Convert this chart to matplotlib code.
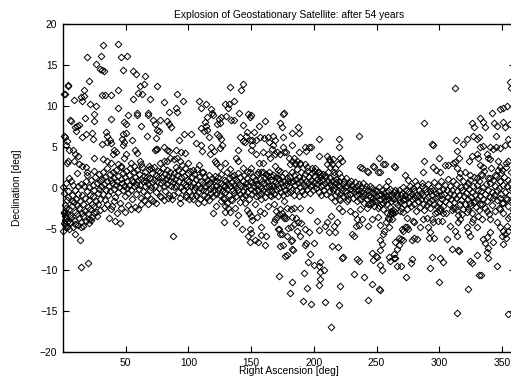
import matplotlib
matplotlib.use('Agg')
import matplotlib.pyplot as plt

plt.rcParams['font.family'] = ['Liberation Sans', 'DejaVu Sans']

# ---- data (right ascension [deg], declination [deg]) ----
upper_left = [(31.9,17.4),(44.2,17.5),(19.5,16.0),(30.3,16.1),(46.3,16.0),(51.0,16.1),(26.6,15.1),(29.5,14.5),(31.0,14.4),(33.0,14.3),
(48.1,14.4),(56.0,14.3),(57.9,13.9),(65.4,13.6),(21.1,13.0),(4.1,12.6),(17.1,12.0),(44.2,12.0),(61.4,12.4),(64.3,12.7),(74.7,12.4),
(1.7,11.5),(31.2,11.4),(33.5,11.3),(38.1,11.4),(59.8,11.6),(63.2,11.5),(14.2,11.1),(16.8,11.2),(9.1,10.7),(15.0,10.6),(55.6,10.8),
(69.6,10.8),(80.5,10.5),(21.6,10.2),(26.4,10.0),(43.6,9.7),(51.8,8.9),(58.7,9.2),(58.9,8.9),(67.8,9.1),(67.9,8.9),(84.5,9.3),
(17.6,8.5),(24.8,9.0),(24.9,8.2),(5.7,8.3),(38.6,8.4),(48.7,8.1),(50.0,7.8),(71.5,8.3),(77.3,8.3),(83.2,8.2),(84.5,7.8),(9.7,7.4),
(11.5,7.6),(12.8,7.7),(62.2,7.5),(73.3,7.8),(75.2,7.1),(76.5,6.9),(85.8,7.4),(10.5,6.9),(18.1,6.6),(15.5,6.2),(22.9,6.7),(24.3,6.0),
(34.3,6.8),(35.4,6.3),(37.5,5.9),(48.1,6.6),(50.3,6.7),(66.7,6.3),(74.4,6.1),(1.4,6.2),(3.0,5.7),(31.2,5.4),(35.4,5.6),(38.1,5.5),
(47.3,6.0),(48.7,5.6),(47.6,5.3),(54.8,5.9),(80.5,5.0),(83.2,4.6),(84.5,4.5),(75.2,4.8),(73.3,4.6),(8.2,4.6),(9.6,4.1),(12.2,3.9),
(40.7,4.6),(42.0,4.4),(40.0,4.2),(57.7,4.6),(59.3,4.3),(73.8,4.8),(50.0,4.1),(48.7,3.7),(3.6,3.3),(8.9,3.3),(12.8,2.9),
(15.5,2.7),(18.1,2.5),(19.5,1.9),(24.8,3.7),(32.2,3.5),(35.4,3.3),(38.1,3.1),(43.6,2.9),(46.3,2.7),(54.2,3.1),(56.8,2.7),(61.0,3.3),
(61.8,2.9),(68.5,2.7),(69.9,2.4),(77.6,3.1),(80.3,3.3),(83.2,3.3),(85.4,3.7),(88.3,3.5),(0.5,11.5),(3.8,12.4),(6.0,8.2),(0.8,6.3),
(2.6,5.2),(4.5,4.6),(2.8,3.0)]

lower_left = [(36.3,-3.7),(41.3,-4.0),(45.5,-4.3),(88.0,-5.9),(14.2,-9.6),(20.3,-9.1),(9.3,-5.6),(13.5,-6.4),(14.2,-4.8),(0.3,-5.2),
(1.5,-4.4),(0.8,-3.0),(2.5,-2.4),(32.7,-2.5),(35.1,-1.9),(38.0,-2.6),(40.5,-1.6),(43.0,-3.0),(46.5,-2.4),(49.8,-2.9),(52.0,-2.1),
(54.5,-2.6),(57.2,-2.3),(59.5,-2.6),(62.0,-1.9),(64.8,-1.5),(67.5,-2.0),(70.5,-1.3),(74.0,-1.8),(77.5,-1.0),(80.8,-1.5),(84.0,-1.2),
(87.5,-0.8),(24.7,-3.0),(20.7,-3.8),(27.0,-3.4),(29.5,-2.7),(7.5,-1.6)]

core_0_30 = [(0.3,0.1),(0.6,-0.6),(1.0,-2.9),(1.2,-3.4),(1.5,-3.9),(0.9,-4.3),(2.0,-4.6),(2.4,-3.7),(3.1,-4.1),(3.5,-3.0),(2.8,-1.5),
(3.8,-0.4),(4.2,-1.1),(4.9,-2.6),(5.3,-3.3),(5.8,-4.2),(6.4,-3.6),(6.9,-2.2),(7.3,-0.8),(7.8,0.4),(8.4,-1.7),(8.9,-3.9),(9.4,-2.9),
(9.9,-0.2),(4.5,1.2),(6.1,0.9),(2.2,0.6),(8.1,-4.7),(5.0,-5.0),(3.3,-4.8),(1.8,-2.1),(9.5,-4.4),(10.4,-1.3),(10.8,-3.2),(11.3,-2.1),
(11.7,0.3),(12.2,-0.7),(12.6,-3.6),(13.1,-2.5),(13.6,-1.6),(14.0,0.5),(14.4,-4.1),(14.9,-3.0),(15.4,-0.9),(15.9,-2.0),(16.3,-3.4),
(16.8,0.2),(17.2,-1.2),(17.7,-2.8),(18.2,-4.0),(18.6,0.8),(19.1,-0.4),(19.6,-2.3),(20.0,-3.1),(20.5,-1.5),(21.0,0.1),(21.4,-0.8),
(21.9,-2.6),(22.4,1.0),(22.8,-1.9),(23.3,-3.5),(23.7,0.4),(24.2,-1.0),(24.7,-2.2),(25.1,-0.3),(25.6,1.3),(26.1,-1.6),(26.5,-2.9),
(27.0,0.6),(27.5,-0.6),(27.9,-1.9),(28.4,1.7),(28.8,-0.1),(29.3,-1.3),(29.8,0.9),(12.0,-4.5),(16.0,-4.6),(18.9,1.6),(20.8,-4.3),
(11.0,1.8),(25.0,2.1),(22.0,-3.9)]

core_30_90 = [(30.5,0.2),(31.0,1.1),(31.6,-0.7),(32.1,2.0),(32.7,0.5),(33.2,-1.5),(33.8,1.4),(34.3,-0.2),(34.9,0.8),(35.4,2.4),
(36.0,-0.9),(36.5,0.3),(37.1,1.7),(37.6,-0.4),(38.2,1.0),(38.7,-2.2),(39.3,0.6),(39.8,1.9),(40.4,-0.1),(40.9,1.2),(41.5,-1.1),
(42.0,0.4),(42.6,2.2),(43.1,0.9),(43.7,-0.5),(44.2,1.5),(44.8,0.1),(45.3,-1.8),(45.9,1.1),(46.4,2.6),(47.0,0.6),(47.5,-0.3),
(48.1,1.8),(48.6,0.3),(49.2,-1.0),(49.7,1.3),(50.3,2.1),(50.8,0.0),(51.4,0.9),(51.9,-0.6),(52.5,1.6),(53.0,0.4),(53.6,2.4),
(54.1,-0.2),(54.7,1.0),(55.2,-1.4),(55.8,0.7),(56.3,1.9),(56.9,0.2),(57.4,1.3),(58.0,-0.7),(58.5,0.5),(59.1,2.2),(59.6,1.0),
(60.2,-0.1),(60.7,1.7),(61.3,0.4),(61.8,-1.2),(62.4,1.1),(62.9,2.5),(63.5,0.8),(64.0,-0.4),(64.6,1.5),(65.1,0.2),(65.7,2.0),
(66.2,0.9),(66.8,-0.9),(67.3,1.4),(67.9,0.5),(68.4,2.3),(69.0,-0.2),(69.5,1.2),(70.1,0.1),(70.6,1.8),(71.2,0.7),(71.7,-1.6),
(72.3,2.6),(72.8,1.0),(73.4,0.3),(73.9,1.6),(74.5,-0.5),(75.0,0.8),(75.6,2.1),(76.1,1.3),(76.7,0.0),(77.2,1.9),(77.8,0.6),
(78.3,-1.1),(78.9,1.4),(79.4,2.4),(80.0,0.9),(80.5,0.2),(81.1,1.7),(81.6,-0.4),(82.2,1.1),(82.7,2.2),(83.3,0.5),(83.8,1.5),
(84.4,-0.8),(84.9,0.9),(85.5,2.0),(86.0,0.3),(86.6,1.3),(87.1,-1.4),(87.7,0.7),(88.2,1.8),(88.8,0.1),(89.3,1.1),(89.9,2.5)]

upper_mid = [(133.5,12.3),(143.1,12.7),(142.0,12.0),(90.6,11.5),(95.9,10.6),(108.3,10.6),(114.2,10.3),(110.2,9.7),(90.4,9.8),
(91.2,9.3),(117.6,9.6),(119.0,9.1),(119.8,8.9),(129.0,10.2),(132.7,10.2),(131.4,9.8),(136.7,10.6),(126.1,8.7),(124.2,8.4),
(122.9,7.8),(125.0,7.9),(114.4,8.6),(113.1,8.0),(113.6,7.6),(112.3,7.0),(109.7,7.3),(114.4,7.1),(130.3,8.8),(134.0,8.3),(136.2,8.3),
(140.2,9.1),(147.3,9.0),(149.7,8.9),(148.9,8.7),(143.6,7.7),(146.8,6.8),(146.0,6.3),(141.5,6.2),(156.6,7.5),(161.4,8.2),(152.0,6.8),
(151.0,5.9),(154.2,5.8),(157.4,6.2),(160.1,6.1),(163.2,6.2),(167.5,6.4),(168.8,5.9),(167.3,5.2),(164.2,5.6),(166.8,4.7),(168.8,4.2),
(170.7,4.4),(172.8,4.2),(163.5,4.1),(173.3,7.9),(174.7,7.4),(175.1,9.0),(96.4,6.6),(101.7,6.6),(92.5,5.8),(106.2,5.5),(116.3,6.2),
(109.7,5.2),(111.0,4.5),(117.6,5.0),(122.5,6.6),(124.2,6.4),(126.0,6.0),(127.0,5.2),(125.0,4.9),(120.3,4.5),(139.9,4.6),(143.1,5.7),
(145.2,5.6),(149.2,5.9),(150.5,5.2),(150.2,4.6),(90.3,4.6),(94.3,4.4),(96.9,4.3),(90.8,3.7),(93.5,3.3),(94.9,2.8),(117.0,4.2),
(121.0,3.3),(122.3,3.1),(129.5,3.1),(138.0,3.7),(139.4,3.3),(143.3,2.4),(146.8,2.0),(149.9,2.4),(155.3,2.0),(157.9,1.9),(161.6,1.7),
(154.0,4.2),(159.6,4.4),(155.9,3.1),(159.6,3.0),(165.0,3.7),(169.0,2.7),(171.7,2.2),(164.0,2.0),(166.0,1.5),(171.7,1.2),(100.0,3.0),
(104.0,2.2),(108.5,2.8),(112.0,1.9),(125.5,2.5),(133.0,2.3),(136.0,1.6)]

core_90_180 = [(90.4,0.3),(90.9,1.6),(91.5,-0.5),(92.0,2.2),(92.6,0.8),(93.1,-1.2),(93.7,1.3),(94.2,0.1),(94.8,2.0),(95.3,0.6),
(95.9,-0.3),(96.4,1.5),(97.0,0.4),(97.5,2.4),(98.1,-0.8),(98.6,1.0),(99.2,0.2),(99.7,1.8),(100.3,-0.4),(100.8,0.9),(101.4,2.1),
(101.9,0.3),(102.5,-1.0),(103.0,1.4),(103.6,0.6),(104.1,-0.2),(104.7,1.7),(105.2,0.1),(105.8,-0.9),(106.3,1.1),(106.9,2.3),
(107.4,0.4),(108.0,-0.5),(108.5,1.3),(109.1,0.0),(109.6,-1.3),(110.2,0.9),(110.7,1.9),(111.3,-0.2),(111.8,0.6),(112.4,-0.8),
(112.9,1.4),(113.5,0.2),(114.0,-0.4),(114.6,1.0),(115.1,-1.1),(115.7,0.5),(116.2,1.6),(116.8,-0.1),(117.3,0.7),(117.9,-0.6),
(118.4,1.2),(119.0,0.1),(119.5,-1.0),(120.1,0.8),(120.6,-0.3),(121.2,1.5),(121.7,0.3),(122.3,-0.7),(122.8,0.9),(123.4,-0.2),
(123.9,1.3),(124.5,0.0),(125.0,-0.9),(125.6,0.6),(126.1,1.7),(126.7,-0.4),(127.2,0.4),(127.8,-1.2),(128.3,1.0),(128.9,0.2),
(129.4,-0.5),(130.0,0.8),(130.5,1.9),(131.1,-0.1),(131.6,0.5),(132.2,-0.8),(132.7,1.2),(133.3,0.3),(133.8,-1.4),(134.4,0.7),
(134.9,1.5),(135.5,-0.3),(136.0,0.4),(136.6,-0.6),(137.1,1.1),(137.7,0.0),(138.2,-1.0),(138.8,0.9),(139.3,1.8),(139.9,-0.2),
(140.4,0.5),(141.0,-0.7),(141.5,1.3),(142.1,0.2),(142.6,-1.1),(143.2,0.8),(143.7,-0.4),(144.3,1.6),(144.8,0.1),(145.4,-0.9),
(145.9,0.6),(146.5,1.2),(147.0,-0.5),(147.6,0.3),(148.1,-1.3),(148.7,0.9),(149.2,2.0),(149.8,-0.1),(150.3,0.7),(150.9,-0.7),
(151.4,1.4),(152.0,0.2),(152.5,-0.4),(153.1,1.0),(153.6,-1.0),(154.2,0.5),(154.7,1.7),(155.3,-0.2),(155.8,0.4),(156.4,-0.8),
(156.9,1.1),(157.5,0.0),(158.0,-0.6),(158.6,0.8),(159.1,1.9),(159.7,-0.3),(160.2,0.6),(160.8,-1.1),(161.3,1.2),(161.9,0.1),
(162.4,-0.5),(163.0,0.9),(163.5,1.5),(164.1,-0.2),(164.6,0.3),(165.2,-0.9),(165.7,1.0),(166.3,0.4),(166.8,-0.4),(167.4,1.6),
(167.9,0.2),(168.5,-0.7),(169.0,0.7),(169.6,1.3),(170.1,-0.1),(170.7,0.5),(171.2,-1.0),(171.8,1.1),(172.3,0.0),(172.9,2.1),
(173.4,0.6),(174.0,-0.5),(174.5,1.4),(175.1,0.3),(175.6,-0.8),(176.2,0.9),(176.7,1.8),(177.3,-0.3),(177.8,0.4),(178.4,1.2),
(178.9,-0.6),(179.5,0.8)]

lower_mid = [(97.7,-1.1),(100.4,-1.4),(112.6,-1.7),(119.5,-3.0),(128.2,-4.1),(126.0,-1.6),(128.0,-1.4),(130.4,-1.8),(129.5,-2.2),
(131.4,-2.4),(129.5,-2.9),(133.4,-2.9),(137.5,-2.5),(141.5,-1.7),(139.4,-3.3),(138.3,-4.3),(142.3,-5.0),(146.8,-2.7),(148.1,-3.0),
(149.5,-3.4),(150.8,-3.9),(148.9,-5.0),(150.0,-5.5),(147.6,-5.8),(149.4,-6.6),(153.4,-6.3),(155.3,-6.6),(158.0,-1.4),(157.4,-2.8),
(158.2,-4.8),(158.2,-5.7),(162.0,-5.9),(161.4,-6.9),(166.2,-1.0),(168.0,-2.0),(170.0,-2.8),(172.8,-2.6),(172.0,-3.2),(174.2,-3.0),
(176.0,-3.6),(169.3,-3.8),(168.0,-4.1),(170.7,-3.5),(176.0,-1.6),(172.8,-7.1),(177.3,-8.3),(172.0,-10.7),(172.5,-5.0),(174.5,-5.6),
(160.5,-3.0),(163.5,-2.2),(153.0,-2.0),(155.0,-3.5),(145.0,-1.8),(135.0,-1.5),(122.0,-2.2),(116.0,-1.5),(108.0,-1.8),(104.0,-1.4),
(93.5,-1.8)]

upper_right = [(176.0,9.1),(187.1,7.4),(182.6,6.7),(187.9,6.7),(203.8,6.0),(220.0,6.0),(220.0,5.0),(235.6,6.3),(175.2,6.2),
(175.6,5.0),(176.5,4.4),(177.6,4.4),(182.6,5.2),(187.9,4.4),(193.2,5.0),(195.8,5.0),(197.8,5.0),(194.1,4.5),(203.8,3.9),(210.4,3.9),
(211.7,3.5),(213.0,3.3),(215.6,3.5),(220.9,3.7),(222.2,3.3),(219.6,2.9),(184.0,3.7),(186.6,3.3),(185.2,2.9),(189.2,3.1),(193.2,2.9),
(198.5,2.4),(203.8,2.0),(209.1,1.6),(214.4,2.9),(217.0,2.4),(219.7,1.8),(238.2,2.4),(243.5,2.0),(248.3,2.6),(252.2,3.7),(256.7,2.9),
(264.8,2.6),(252.9,2.0),(259.0,0.8),(237.0,2.5),(242.3,2.1),(247.0,2.7),(255.5,2.9),(263.5,2.7),(251.5,1.9),(180.0,3.7),(182.6,3.3),
(181.3,2.9),(185.2,3.1),(189.2,2.9),(194.5,2.5),(199.8,2.1),(205.1,1.7),(210.4,2.9),(213.1,2.5),(215.7,1.9),
(288.1,3.3),(299.6,3.7),(288.1,7.9),(294.0,5.4),(294.6,5.3),(312.6,12.2),(356.3,12.9),(356.9,12.2),(313.1,5.9),(313.9,4.5),
(316.0,3.7),(318.7,5.4),(321.9,6.0),(325.8,7.9),(328.0,7.4),(330.3,6.0),(331.9,6.2),(327.1,6.3),(332.5,8.5),(334.6,8.1),(336.4,7.4),
(341.8,9.1),(348.4,9.6),(350.5,9.8),(353.7,10.0),(343.4,7.9),(346.0,7.6),(345.5,6.4),(350.8,8.1),(352.7,7.4),(356.3,7.8),(332.5,5.0),
(335.1,5.1),(337.7,4.1),(340.4,5.0),(343.0,4.8),(345.1,5.0),(348.2,4.9),(352.1,5.2),(355.0,6.0),(356.4,5.4),(324.0,3.3),(325.8,3.9),
(329.8,4.1),(330.6,3.6),(332.5,2.8),(335.1,2.6),(339.1,3.6),(340.4,3.5),(346.4,3.3),(348.2,2.6),(349.6,2.2),(353.5,3.0),(354.8,3.3),
(287.0,2.0),(294.9,2.6),(297.6,2.2),(300.2,2.0),(304.2,2.8),(306.8,2.8),(310.8,3.0),(312.6,3.2),(314.0,2.4),(316.6,1.8),(320.6,2.0),
(324.5,1.6),(329.8,1.2),(333.8,1.6),(340.4,1.2),(344.3,1.6),(348.2,0.8),(272.7,1.6),(275.3,1.0),(280.6,0.8),(285.9,0.6)]

core_180_270 = [(180.1,0.2),(180.6,1.3),(181.2,-0.5),(181.7,0.7),(182.3,2.0),(182.8,-0.2),(183.4,0.9),(183.9,1.6),(184.5,-0.8),
(185.0,0.4),(185.6,1.1),(186.1,-0.3),(186.7,2.3),(187.2,0.6),(187.8,-1.0),(188.3,1.4),(188.9,0.1),(189.4,0.8),(190.0,1.9),
(190.5,-0.4),(191.1,0.5),(191.6,1.2),(192.2,-0.7),(192.7,0.3),(193.3,1.7),(193.8,0.9),(194.4,-0.1),(194.9,2.1),(195.5,0.6),
(196.0,1.3),(196.6,-0.6),(197.1,0.2),(197.7,1.0),(198.2,1.8),(198.8,0.4),(199.3,-0.3),(199.9,1.5),(200.4,0.7),(201.0,2.4),
(201.5,0.0),(202.1,1.1),(202.6,0.5),(203.2,1.9),(203.7,-0.5),(204.3,0.8),(204.8,1.4),(205.4,0.2),(205.9,-0.9),(206.5,1.0),
(207.0,0.4),(207.6,1.7),(208.1,-0.2),(208.7,0.6),(209.2,1.3),(209.8,-0.7),(210.3,0.1),(210.9,0.9),(211.4,2.0),(212.0,-0.4),
(212.5,0.5),(213.1,1.2),(213.6,-1.1),(214.2,0.3),(214.7,0.8),(215.3,-0.3),(215.8,1.6),(216.4,0.0),(216.9,-0.8),(217.5,0.7),
(218.0,1.1),(218.6,-0.5),(219.1,0.4),(219.7,-1.3),(220.2,0.9),(220.8,0.2),(221.3,-0.6),(221.9,1.4),(222.4,-0.2),(223.0,0.5),
(223.5,-1.0),(224.1,0.8),(224.6,-0.4),(225.2,0.1),(225.7,1.2),(226.3,-0.8),(226.8,0.3),(227.4,-1.4),(227.9,0.6),(228.5,-0.1),
(229.0,-0.7),(229.6,0.9),(230.1,-0.3),(230.7,0.4),(231.2,-1.2),(231.8,0.0),(232.3,-0.5),(232.9,0.7),(233.4,-0.9),(234.0,0.2),
(234.5,-1.6),(235.1,-0.2),(235.6,0.5),(236.2,-0.7),(236.7,-1.3),(237.3,0.1),(237.8,-0.4),(238.4,-1.0),(238.9,0.6),(239.5,-0.6),
(240.0,-1.8),(240.6,-0.1),(241.1,-0.9),(241.7,0.3),(242.2,-1.4),(242.8,-0.3),(243.3,-2.0),(243.9,-0.8),(244.4,0.2),(245.0,-1.1),
(245.5,-0.5),(246.1,-1.7),(246.6,0.0),(247.2,-1.2),(247.7,-0.6),(248.3,-2.2),(248.8,-0.2),(249.4,-1.0),(249.9,-1.6),(250.5,-0.4),
(251.0,-2.4),(251.6,-0.9),(252.1,0.1),(252.7,-1.3),(253.2,-0.7),(253.8,-1.9),(254.3,-0.3),(254.9,-1.1),(255.4,-2.6),(256.0,-0.6),
(256.5,-1.5),(257.1,0.2),(257.6,-1.0),(258.2,-2.0),(258.7,-0.4),(259.3,-1.3),(259.8,-0.8),(260.4,-2.3),(260.9,-0.1),(261.5,-1.6),
(262.0,-0.9),(262.6,-1.2),(263.1,-2.7),(263.7,-0.5),(264.2,-1.4),(264.8,-0.2),(265.3,-1.8),(265.9,-1.0),(266.4,-0.6),(267.0,-2.1),
(267.5,-1.3),(268.1,-0.3),(268.6,-1.7),(269.2,-0.9),(269.8,-2.4)]

lower_right = [(213.6,-17.0),(191.0,-13.8),(197.7,-14.2),(208.6,-13.9),(219.7,-14.3),(243.1,-13.7),(181.3,-12.8),(182.6,-11.5),
(194.5,-12.2),(220.5,-11.9),(204.3,-11.8),(204.6,-11.1),(205.2,-10.2),(207.9,-10.0),(203.9,-9.5),(205.2,-9.0),(199.9,-9.4),
(195.0,-9.0),(191.9,-10.4),(197.2,-8.1),(178.6,-8.2),(182.5,-7.4),(183.2,-7.6),(193.2,-6.9),(199.8,-6.7),(214.4,-7.1),(219.2,-7.2),
(222.4,-8.5),(223.0,-8.4),(232.2,-10.5),(240.2,-10.9),(246.3,-11.7),(252.9,-12.4),(251.6,-12.3),(234.4,-8.6),(236.2,-8.9),
(247.3,-8.8),(250.5,-8.4),(253.1,-9.4),(254.4,-10.0),(259.7,-8.4),(261.0,-8.9),(263.6,-8.5),(253.0,-7.6),(254.4,-6.8),(252.5,-6.3),
(255.5,-5.6),(256.3,-5.3),(259.5,-4.7),(257.6,-4.2),(258.7,-3.6),(260.8,-3.2),(261.6,-2.8),(246.3,-7.9),(249.7,-8.3),(175.4,-7.0),
(172.8,-5.6),(171.5,-5.0),(176.0,-3.4),(178.8,-2.5),(181.4,-2.6),(184.0,-2.5),(177.4,-3.6),(182.7,-3.5),(185.4,-3.6),(189.3,-2.4),
(196.7,-2.7),(202.5,-4.0),(210.4,-4.2),(215.7,-4.6),(211.7,-5.4),(217.0,-5.4),(218.3,-4.2),(219.7,-2.4),(222.4,-2.8),(217.0,-1.6),
(221.0,-1.5),(226.3,-1.6),(229.0,-2.8),(233.0,-3.2),(234.3,-3.8),(233.8,-4.6),(230.4,-5.6),(232.2,-5.8),(237.1,-2.6),(242.4,-2.5),
(243.0,-4.6),(246.4,-3.8),(247.8,-1.6),(245.6,-2.0),(251.6,-2.2),(258.3,-3.0),(259.6,-3.8),(181.4,-6.5),(182.7,-6.3),(189.3,-5.9),
(196.0,-5.4),(193.4,-6.7),(181.5,-4.7),(179.0,-4.9),(184.5,-4.4),(187.0,-4.2),(189.5,-4.3),(178.6,-5.9),(186.6,-5.3),(193.2,-5.0),
(204.0,-5.1),(208.5,-4.6),(213.5,-3.4),(238.0,-3.8),(236.0,-4.5),(253.0,-4.5),(251.0,-3.5),(255.0,-1.8),(263.0,-3.0),
(313.9,-15.3),(355.0,-15.4),(323.2,-12.3),(300.1,-11.5),(273.3,-10.8),(292.7,-9.8),(332.0,-10.6),(333.1,-10.6),(345.7,-9.5),
(266.2,-9.5),(269.6,-9.5),(277.3,-9.2),(278.6,-8.6),(294.5,-8.4),(300.6,-8.5),(302.8,-9.0),(324.5,-8.9),(325.8,-9.2),(330.3,-8.2),
(338.3,-7.8),(339.1,-8.5),(309.9,-7.5),(315.2,-7.6),(316.0,-7.7),(264.5,-8.5),(263.6,-8.1),(266.2,-7.5),(267.5,-6.9),(264.9,-6.6),
(269.6,-6.2),(268.2,-6.1),(271.4,-6.3),(278.0,-6.3),(279.9,-6.1),(282.0,-6.2),(270.1,-5.0),(272.7,-4.8),(274.6,-4.7),(275.4,-5.0),
(271.4,-5.2),(284.7,-4.8),(279.9,-4.1),(279.4,-4.0),(274.1,-3.7),(271.4,-2.9),(268.8,-2.8),(264.8,-2.9),(262.1,-3.8),(262.1,-3.0),
(291.3,-4.8),(292.1,-6.1),(295.8,-6.1),(292.6,-5.4),(295.3,-4.2),(299.3,-4.0),(301.9,-4.0),(303.2,-3.0),(300.6,-2.8),(297.9,-2.2),
(296.6,-3.0),(294.0,-3.8),(287.3,-3.8),(290.0,-3.6),(306.4,-6.2),(308.5,-4.6),(312.5,-5.2),(313.8,-5.9),(315.2,-4.2),(316.5,-3.8),
(317.8,-3.2),(313.8,-2.7),(311.2,-2.4),(321.8,-4.8),(323.1,-5.4),(324.4,-5.8),(325.8,-4.2),(329.8,-4.8),(333.7,-3.8),(331.1,-3.4),
(327.1,-3.8),(323.1,-2.6),(324.4,-1.8),(328.4,-1.6),(332.4,-2.0),(337.7,-2.8),(334.5,-6.2),(336.4,-6.7),(338.2,-6.0),(340.4,-5.4),
(343.0,-6.6),(339.0,-7.3),(351.0,-6.8),(349.6,-5.8),(353.1,-6.1),(355.0,-5.2),(351.0,-5.2),(352.3,-5.6),(353.6,-4.6),(348.3,-4.8),
(340.4,-3.8),(345.7,-4.2),(348.3,-2.6),(355.0,-3.6),(351.0,-1.8),(353.6,-1.4),(348.3,-1.2),(343.0,-1.2)]

core_270_360 = [(270.3,-0.6),(270.8,-1.5),(271.4,0.1),(271.9,-2.0),(272.5,-0.9),(273.0,-1.3),(273.6,-0.2),(274.1,-2.6),(274.7,-1.1),
(275.2,-0.5),(275.8,-1.8),(276.3,0.3),(276.9,-1.0),(277.4,-2.2),(278.0,-0.7),(278.5,-1.4),(279.1,0.0),(279.6,-1.9),(280.2,-0.4),
(280.7,-1.2),(281.3,-2.8),(281.8,-0.8),(282.4,0.4),(282.9,-1.6),(283.5,-0.3),(284.0,-1.0),(284.6,-2.3),(285.1,-0.6),(285.7,-1.4),
(286.2,0.2),(286.8,-1.9),(287.3,-0.9),(287.9,-2.7),(288.4,-0.1),(289.0,-1.3),(289.5,-0.5),(290.1,-2.1),(290.6,0.5),(291.2,-1.1),
(291.7,-1.7),(292.3,-0.4),(292.8,-2.5),(293.4,0.0),(293.9,-0.8),(294.5,-1.5),(295.0,-0.2),(295.6,-2.0),(296.1,0.7),(296.7,-1.2),
(297.2,-0.6),(297.8,-2.9),(298.3,-1.0),(298.9,0.3),(299.4,-1.8),(300.0,-0.4),(300.5,-2.4),(301.1,-0.9),(301.6,0.9),(302.2,-1.4),
(302.7,-0.1),(303.3,-2.2),(303.8,-0.7),(304.4,0.4),(304.9,-1.6),(305.5,-3.1),(306.0,-0.3),(306.6,-1.1),(307.1,1.1),(307.7,-2.0),
(308.2,-0.6),(308.8,0.2),(309.3,-1.3),(309.9,-2.7),(310.4,-0.2),(311.0,0.8),(311.5,-1.7),(312.1,-0.9),(312.6,-2.4),(313.2,0.5),
(313.7,-1.2),(314.3,-0.4),(314.8,-3.3),(315.4,1.3),(315.9,-0.8),(316.5,-2.0),(317.0,0.1),(317.6,-1.5),(318.1,-0.3),(318.7,-2.6),
(319.2,0.9),(319.8,-1.0),(320.3,-1.9),(320.9,0.3),(321.4,-0.6),(322.0,-2.9),(322.5,-1.3),(323.1,0.6),(323.6,-0.1),(324.2,-2.2),
(324.7,1.0),(325.3,-1.1),(325.8,-0.5),(326.4,-3.0),(326.9,0.2),(327.5,-1.7),(328.0,1.4),(328.6,-0.8),(329.1,-2.3),(329.7,0.4),
(330.2,-1.4),(330.8,-0.2),(331.3,-2.7),(331.9,0.8),(332.4,-1.0),(333.0,1.7),(333.5,-0.4),(334.1,-2.0),(334.6,0.1),(335.2,-1.3),
(335.7,2.1),(336.3,-0.7),(336.8,-2.5),(337.4,0.5),(337.9,-1.6),(338.5,1.2),(339.0,-0.2),(339.6,-3.2),(340.1,0.6),(340.7,-1.1),
(341.2,2.4),(341.8,-0.5),(342.3,-2.1),(342.9,1.0),(343.4,-0.9),(344.0,0.3),(344.5,-2.8),(345.1,1.5),(345.6,-0.3),(346.2,-1.5),
(346.7,2.2),(347.3,0.0),(347.8,-2.4),(348.4,0.9),(348.9,-0.7),(349.5,1.8),(350.0,-1.8),(350.6,0.4),(351.1,-3.0),(351.7,1.3),
(352.2,-0.5),(352.8,2.6),(353.3,-1.2),(353.9,0.2),(354.4,-2.2),(355.0,1.0),(355.5,-0.9),(356.1,-3.4),(356.6,0.6),(357.2,1.9),
(357.7,-1.6),(358.3,-0.1),(358.8,-2.7),(359.4,0.8),(359.9,-1.3)]

groups = [upper_left, lower_left, core_0_30, core_30_90, upper_mid, core_90_180, lower_mid,
          upper_right, core_180_270, lower_right, core_270_360]
ra = [p[0] for g in groups for p in g]
dec = [p[1] for g in groups for p in g]

x_ticks = [50, 100, 150, 200, 250, 300, 350]
y_ticks = [-20, -15, -10, -5, 0, 5, 10, 15, 20]

title = 'Explosion of Geostationary Satellite: after 54 years'
x_label = 'Right Ascension [deg]'
y_label = 'Declination [deg]'

fig = plt.figure(figsize=(5.11, 3.85), dpi=100)
ax = fig.add_axes([0.1233, 0.0857, 0.8837, 0.852])

ax.axhline(0, color='#555555', lw=0.6, ls=(0, (1, 2)), zorder=1)
ax.plot(ra, dec, ls='none', marker='D', ms=3.4, mfc='none', mec='black', mew=0.7, zorder=2, clip_on=False)

ax.set_xlim(0, 360)
ax.set_ylim(-20, 20)
ax.set_xticks(x_ticks)
ax.set_yticks(y_ticks)
ax.tick_params(direction='in', top=True, right=True, length=4, width=0.8, labelsize=7.4, pad=4)
for s in ax.spines.values():
    s.set_linewidth(1.0)

ax.set_title(title, fontsize=7.4, pad=4)
ax.set_xlabel(x_label, fontsize=7.4, labelpad=-1)
ax.set_ylabel(y_label, fontsize=7.4, labelpad=13)

fig.savefig('out.png', dpi=100)
